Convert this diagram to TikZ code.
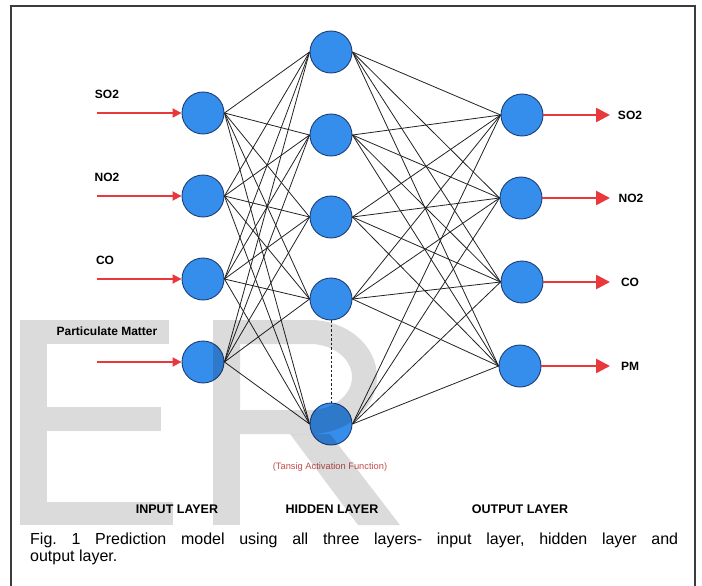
\documentclass[tikz,border=0pt]{standalone}
\usepackage{fontspec}
\setmainfont{Liberation Sans}
\usetikzlibrary{arrows.meta}
\definecolor{nodeblue}{RGB}{54,142,236}
\definecolor{nodeedge}{RGB}{28,62,120}
\definecolor{arrowred}{RGB}{232,56,60}
\definecolor{tanred}{RGB}{195,78,78}
\definecolor{framegray}{RGB}{60,60,60}
\frenchspacing
\tikzset{
  neuron/.style={circle, minimum size=42pt, inner sep=0pt, fill=nodeblue, draw=nodeedge, line width=0.9pt},
  link/.style={line width=0.8pt, draw={rgb,255:red,35;green,35;blue,35}},
  inarrow/.style={line width=1.8pt, arrowred, -{Triangle[length=9pt,width=9pt]}},
  outarrow/.style={line width=2.6pt, arrowred, -{Triangle[length=14pt,width=14pt]}},
  lbl/.style={font=\fontsize{12}{14}\selectfont\bfseries, inner sep=0pt},
  layerlbl/.style={font=\fontsize{12.5}{14}\selectfont\bfseries, inner sep=0pt},
  wm/.style={fill=black, fill opacity=0.14, draw=none}
}
\begin{document}
\begin{tikzpicture}[x=1pt, y=-1pt]
\useasboundingbox (0,0) rectangle (702,586);
\fill[white] (0,0) rectangle (702,586);
% frame (bottom edge lies outside the picture)
\draw[framegray, line width=1.3pt] (11,590) -- (11,6) -- (695,6) -- (695,590);

% input layer
\node[neuron] (i1) at (203,113) {};
\node[neuron] (i2) at (203,196) {};
\node[neuron] (i3) at (203,279) {};
\node[neuron] (i4) at (203,362) {};
% hidden layer
\node[neuron] (h1) at (331,52) {};
\node[neuron] (h2) at (331,135) {};
\node[neuron] (h3) at (331,217) {};
\node[neuron] (h4) at (331,299) {};
\node[neuron] (h5) at (331,424) {};
% output layer
\node[neuron] (o1) at (522,115) {};
\node[neuron] (o2) at (521,198) {};
\node[neuron] (o3) at (522,282) {};
\node[neuron] (o4) at (520,366) {};

% connections
\foreach \i in {1,...,4}{
  \foreach \h in {1,...,5}{
    \draw[link] (i\i.east) -- (h\h.west);
  }
}
\foreach \h in {1,...,5}{
  \foreach \o in {1,...,4}{
    \draw[link] (h\h.east) -- (o\o.west);
  }
}
\draw[link, dashed, dash pattern=on 2.5pt off 2pt] (h4.south) -- (h5.north);

% input arrows
\coordinate (ia1) at (97,113);
\coordinate (ia2) at (97,196);
\coordinate (ia3) at (97,279);
\coordinate (ia4) at (97,362);
\foreach \k in {1,...,4}{ \draw[inarrow] (ia\k) -- (i\k.west); }

% output arrows
\coordinate (oa1) at (610,115);
\coordinate (oa2) at (610,198);
\coordinate (oa3) at (610,282);
\coordinate (oa4) at (610,366);
\foreach \k in {1,...,4}{ \draw[outarrow] (o\k.east) -- (oa\k); }

% input labels
\node[lbl] (lin1) at (107,94) {SO2};
\node[lbl] (lin2) at (107,177) {NO2};
\node[lbl] (lin3) at (105,260) {CO};
\node[lbl] (lin4) at (107,331) {Particulate Matter};
% output labels
\node[lbl] (lout1) at (630,115) {SO2};
\node[lbl] (lout2) at (631,198) {NO2};
\node[lbl] (lout3) at (630,282) {CO};
\node[lbl] (lout4) at (630,366) {PM};

% activation note
\node[inner sep=0pt, text=tanred, font=\fontsize{9.3}{11}\selectfont] (tansig) at (330,467) {(Tansig Activation Function)};

% layer labels
\node[layerlbl] (linput) at (177,509) {INPUT LAYER};
\node[layerlbl] (lhidden) at (332,509) {HIDDEN LAYER};
\node[layerlbl] (loutput) at (520,509) {OUTPUT LAYER};

% caption
\node[anchor=north west, inner sep=0pt, text width=648pt, align=justify,
      font=\fontsize{16}{17}\selectfont] (caption) at (30,533)
  {Fig. 1 Prediction model using all three layers- input layer, hidden layer and\linebreak output layer.};

% watermark "ER"
\path[wm] (20,320) rectangle (47,525);
\path[wm] (47,320) rectangle (169,344);
\path[wm] (47,407) rectangle (161,431);
\path[wm] (47,502) rectangle (173,525);
\path[wm] (213,320) rectangle (240,525);
\path[wm, even odd rule] (240,320) -- (310,320)
   arc[start angle=90, end angle=-90, x radius=67pt, y radius=57pt] -- (240,434) -- cycle
   (240,344) -- (310,344)
   arc[start angle=90, end angle=-90, x radius=42pt, y radius=33pt] -- (240,410) -- cycle;
\path[wm] (290,434) -- (330,434) -- (400,525) -- (358,525) -- cycle;
\end{tikzpicture}
\end{document}
